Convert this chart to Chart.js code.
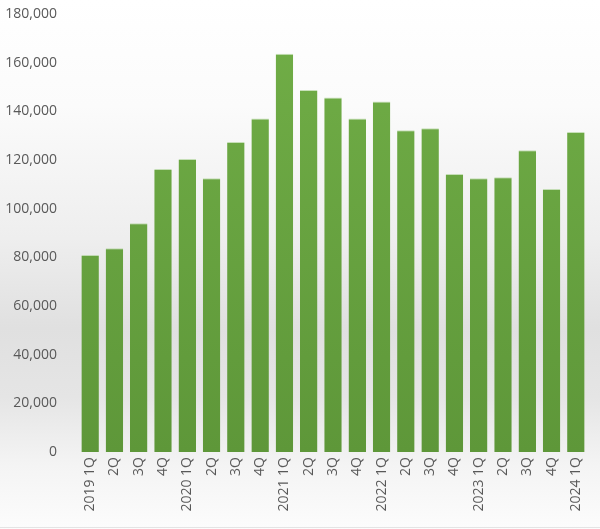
<!DOCTYPE html>
<html>
<head>
<meta charset="utf-8">
<script src="https://cdn.jsdelivr.net/npm/chart.js@4.4.1/dist/chart.umd.min.js"></script>
<style>
  html, body { margin: 0; padding: 0; background: #fff; }
  #wrap { width: 600px; height: 529px; position: relative; }
</style>
</head>
<body>
<div id="wrap"><canvas id="bar_chart"></canvas></div>
<script>
// quarters, 2019 1Q .. 2024 1Q
const categories = [
  "2019 1Q", "2Q", "3Q", "4Q",
  "2020 1Q", "2Q", "3Q", "4Q",
  "2021 1Q", "2Q", "3Q", "4Q",
  "2022 1Q", "2Q", "3Q", "4Q",
  "2023 1Q", "2Q", "3Q", "4Q",
  "2024 1Q"
];
const values = [
  81000, 83700, 94000, 116300,
  120400, 112500, 127400, 137100,
  163700, 148800, 145700, 137100,
  144000, 132200, 133000, 114200,
  112500, 112900, 124000, 108100,
  131500
];
const yMax = 180000;
const yStep = 20000;

const background = {
  id: 'background',
  beforeDraw(chart) {
    const ctx = chart.ctx;
    const h = chart.height;
    const g = ctx.createLinearGradient(0, 0, 0, h);
    g.addColorStop(0, '#ffffff');
    g.addColorStop(0.2, '#fbfbfb');
    g.addColorStop(0.45, '#eeeeee');
    g.addColorStop(0.62, '#e0e0e0');
    g.addColorStop(0.75, '#e5e5e5');
    g.addColorStop(0.88, '#f4f4f4');
    g.addColorStop(1, '#fcfcfc');
    ctx.save();
    ctx.fillStyle = g;
    ctx.fillRect(0, 0, chart.width, h);
    ctx.fillStyle = '#e4e4e4';
    ctx.fillRect(0, h - 2, chart.width, 1);
    ctx.restore();
  }
};

function barFill(context) {
  const area = context.chart.chartArea;
  if (!area) return '#6aa842';
  const g = context.chart.ctx.createLinearGradient(0, area.top, 0, area.bottom);
  g.addColorStop(0, '#71ae47');
  g.addColorStop(1, '#5e9739');
  return g;
}

new Chart(document.getElementById('bar_chart'), {
  type: 'bar',
  data: {
    labels: categories,
    datasets: [{
      data: values,
      backgroundColor: barFill,
      borderColor: 'rgba(150, 200, 120, 0.5)',
      borderWidth: { top: 1, left: 0, right: 0, bottom: 0 },
      categoryPercentage: 1,
      barPercentage: 0.72
    }]
  },
  plugins: [background],
  options: {
    responsive: true,
    maintainAspectRatio: false,
    animation: false,
    layout: { padding: { top: 0, right: 12, left: 0, bottom: 0 } },
    plugins: { legend: { display: false }, tooltip: { enabled: false } },
    scales: {
      x: {
        grid: { display: false, drawTicks: false },
        border: { display: false },
        ticks: {
          color: '#595959',
          font: { family: 'Open Sans', size: 14 },
          minRotation: 90,
          maxRotation: 90,
          padding: 5,
          autoSkip: false
        },
        afterFit(scale) {
          scale.height = 77;
          scale.paddingLeft = 0;
          scale.paddingRight = 0;
        }
      },
      y: {
        min: 0,
        max: yMax,
        grid: { display: false, drawTicks: false },
        border: { display: false },
        ticks: {
          stepSize: yStep,
          color: '#595959',
          font: { family: 'Open Sans', size: 14 },
          padding: 21,
          callback: v => v.toLocaleString('en-US')
        },
        afterFit(scale) {
          scale.width = 78;
          scale.paddingTop = 14;
          scale.paddingBottom = 0;
        }
      }
    }
  }
});
</script>
</body>
</html>
